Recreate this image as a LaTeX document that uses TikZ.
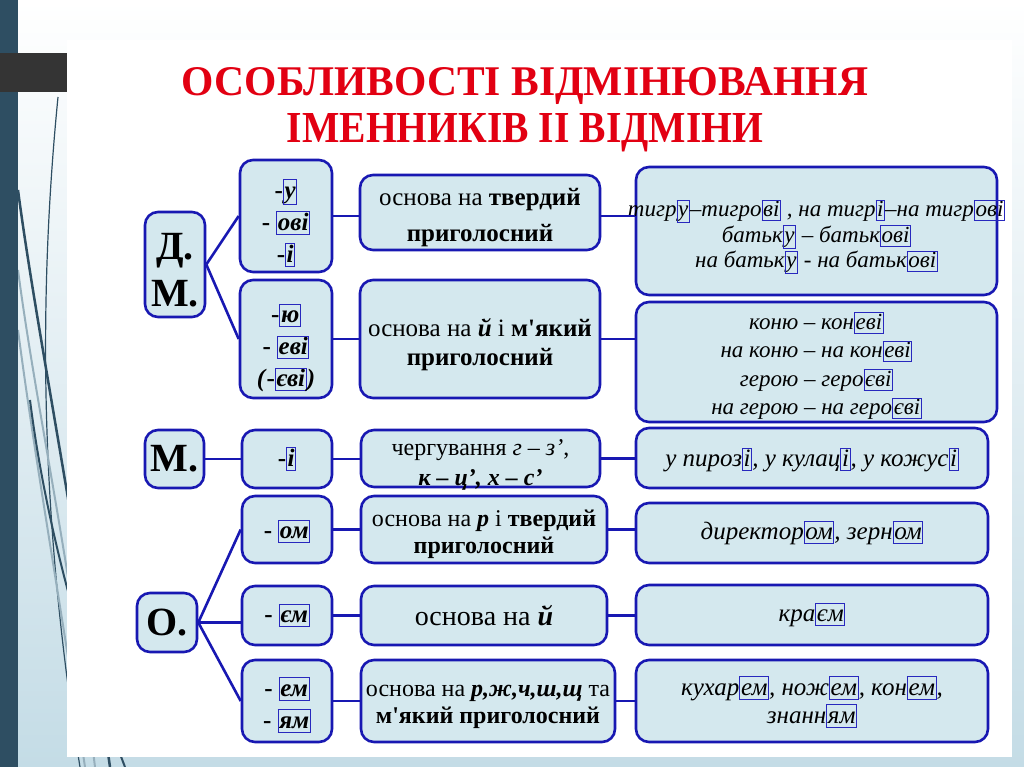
\documentclass[tikz,border=0pt]{standalone}
\usepackage{fontspec}
\setmainfont{Liberation Serif}
\usepackage{graphicx}
\definecolor{bord}{RGB}{24,24,178}
\definecolor{boxfill}{RGB}{212,232,238}
\definecolor{frameblue}{RGB}{40,40,190}
\definecolor{titlered}{RGB}{226,0,18}
\definecolor{barblue}{RGB}{46,78,98}
\definecolor{bgblue}{RGB}{196,220,230}
\definecolor{darkrect}{RGB}{52,52,52}
\definecolor{curvegrey}{RGB}{150,175,188}
\newcommand\fr[1]{{\setlength\fboxsep{0.6pt}\setlength\fboxrule{1pt}\textcolor{frameblue}{\fbox{\textcolor{black}{\rule[-0.12em]{0pt}{0.8em}#1}}}}}
\newcommand\fe[1]{\fr{\textit{#1}}}
\newcommand\ap{\XeTeXglyph\XeTeXcharglyph"27\relax}
\tikzset{
  box/.style={draw=bord, fill=boxfill, line width=2.6pt, rounded corners=13pt, inner sep=0pt},
  txt/.style={align=center, inner sep=0pt, text=black},
  conn/.style={draw=bord, line width=2.6pt},
  deco/.style={line width=#1, draw=barblue},
}
% name, x, y, width, height, downshift, font, text
\newcommand\bx[8]{%
  \node[box, minimum width=#4pt, minimum height=#5pt] (#1) at (#2,#3) {};
  \node[txt, font=#7] (#1t) at ([yshift=-#6pt]#1.center) {#8};}
\begin{document}
\begin{tikzpicture}[x=1pt,y=-1pt]
\useasboundingbox (0,0) rectangle (1024,767);
% background
\shade[top color=white, bottom color=bgblue] (0,0) rectangle (1024,767);
\fill[barblue] (0,0) rectangle (18,767);
\begin{scope}
  \clip (18,0) rectangle (67,767) (67,757) rectangle (1024,767);
  \draw[deco=1.2pt] (58,97) .. controls (38,300) and (40,520) .. (80,767);
  \draw[deco=2.5pt] (18,190) .. controls (35,320) and (75,520) .. (110,767);
  \draw[line width=2pt, curvegrey] (18,270) .. controls (35,400) and (70,560) .. (95,767);
  \draw[line width=2pt, curvegrey] (18,330) .. controls (35,460) and (60,600) .. (85,767);
  \draw[deco=2pt] (30,400) .. controls (45,520) and (80,650) .. (125,767);
\end{scope}
\fill[white] (67,40) rectangle (1012,757);
\fill[darkrect] (0,53) rectangle (67,92);
% title
\node[anchor=base, inner sep=0pt, text=titlered] (t1) at (525,96) {\resizebox{686pt}{28pt}{\bfseries ОСОБЛИВОСТІ ВІДМІНЮВАННЯ}};
\node[anchor=base, inner sep=0pt, text=titlered] (t2) at (525,143) {\resizebox{476pt}{29pt}{\bfseries ІМЕННИКІВ ІІ ВІДМІНИ}};
% left column
\bx{dm}{175}{264.5}{60}{105}{6}{\fontsize{40}{47}\selectfont\bfseries}{Д.\\М.}
\bx{mm}{174.5}{459}{59}{58}{0}{\fontsize{40}{47}\selectfont\bfseries}{М.}
\bx{oo}{167}{622.5}{60}{59}{0}{\fontsize{40}{47}\selectfont\bfseries}{О.}
% endings
\bx{e1}{286}{216}{92}{112}{7}{\fontsize{25}{32}\selectfont\bfseries}{-\fe{у}\\- \fe{ові}\\-\fe{і}}
\bx{e2}{286}{339}{92}{118}{9}{\fontsize{25}{32}\selectfont\bfseries}{-\fe{ю}\\- \fe{еві}\\\textit{(}-\fe{єві}\textit{)}}
\bx{e3}{287}{459}{90}{58}{0}{\fontsize{25}{30}\selectfont\bfseries}{-\fe{і}}
\bx{e4}{287}{529.5}{90}{67}{2}{\fontsize{25}{30}\selectfont\bfseries}{- \fe{ом}}
\bx{e5}{287}{615.5}{90}{59}{0}{\fontsize{25}{30}\selectfont\bfseries}{- \fe{єм}}
\bx{e6}{287}{701}{90}{82}{4}{\fontsize{25}{32}\selectfont\bfseries}{- \fe{ем}\\- \fe{ям}}
% middle column
\bx{m1}{480}{212.5}{240}{75}{5}{\fontsize{25}{36}\selectfont}{основа на \textbf{твердий}\\\textbf{приголосний}}
\bx{m2}{480}{339}{240}{118}{6}{\fontsize{25}{29}\selectfont}{основа на \textbf{\textit{й}} і \textbf{м\ap який}\\\textbf{приголосний}}
\bx{m3}{480.5}{458.5}{239}{57}{6}{\fontsize{24}{30}\selectfont}{чергування \textit{г – з’},\\\textbf{\textit{к – ц’, х – с’}}}
\bx{m4}{484}{529.5}{246}{67}{5}{\fontsize{24}{27}\selectfont}{основа на \textbf{\textit{р}} і \textbf{твердий}\\\textbf{приголосний}}
\bx{m5}{484}{615.5}{246}{59}{0}{\fontsize{28}{30}\selectfont}{основа на \textbf{\textit{й}}}
\bx{m6}{488}{701}{254}{82}{6}{\fontsize{24}{27}\selectfont}{основа на \textbf{\textit{р,ж,ч,ш,щ}} та\\\textbf{м\ap який приголосний}}
% right column
\bx{r1}{816.5}{231}{361}{128}{6}{\fontsize{23}{25.5}\selectfont\itshape}{тигр\fr{у}–тигро\fr{ві} , на тигр\fr{і}–на тигр\fr{ові}\\батьк\fr{у} – батьк\fr{ові}\\на батьк\fr{у} - на батьк\fr{ові}}
\bx{r2}{816.5}{362}{361}{120}{4}{\fontsize{23}{28.5}\selectfont\itshape}{коню – кон\fr{еві}\\на коню – на кон\fr{еві}\\герою – геро\fr{єві}\\на герою – на геро\fr{єві}}
\bx{r3}{812}{458}{352}{60}{2}{\fontsize{25}{30}\selectfont\itshape}{у пироз\fr{і}, у кулац\fr{і}, у кожус\fr{і}}
\bx{r4}{812}{533}{352}{60}{0}{\fontsize{25}{30}\selectfont\itshape}{директор\fr{ом}, зерн\fr{ом}}
\bx{r5}{812}{615}{352}{60}{0}{\fontsize{25}{30}\selectfont\itshape}{кра\fr{єм}}
\bx{r6}{812}{701}{352}{82}{1}{\fontsize{25}{28}\selectfont\itshape}{кухар\fr{ем}, нож\fr{ем}, кон\fr{ем},\\знанн\fr{ям}}
% connectors
\draw[conn] (dm.east) -- (e1.west);
\draw[conn] (dm.east) -- (e2.west);
\draw[conn] (e1.east) -- (e1.east -| m1.west);
\draw[conn] (m1.east |- e1.east) -- (r1.west |- e1.east);
\draw[conn] (e2.east) -- (e2.east -| m2.west);
\draw[conn] (m2.east) -- (m2.east -| r2.west);
\draw[conn] (mm.east) -- (mm.east -| e3.west);
\draw[conn] (e3.east) -- (e3.east -| m3.west);
\draw[conn] (m3.east) -- (m3.east -| r3.west);
\draw[conn] (oo.east) -- (e4.west);
\draw[conn] (oo.east) -- (oo.east -| e5.west);
\draw[conn] (oo.east) -- (e6.west);
\draw[conn] (e4.east) -- (e4.east -| m4.west);
\draw[conn] (m4.east) -- (m4.east -| r4.west);
\draw[conn] (e5.east) -- (e5.east -| m5.west);
\draw[conn] (m5.east) -- (m5.east -| r5.west);
\draw[conn] (e6.east) -- (e6.east -| m6.west);
\draw[conn] (m6.east) -- (m6.east -| r6.west);
\end{tikzpicture}
\end{document}
